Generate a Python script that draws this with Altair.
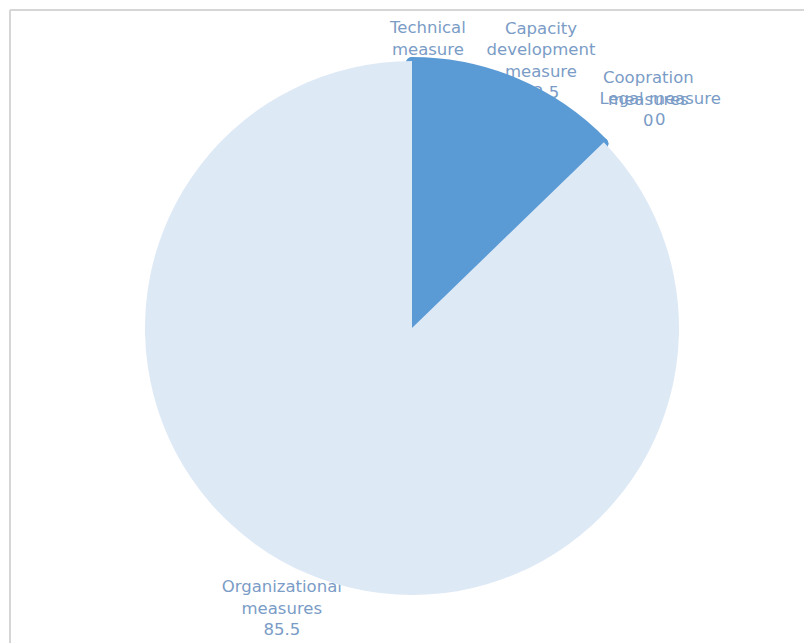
import altair as alt
import pandas as pd

categories = ["Technical measure", "Capacity development measure", "Coopration measures",
              "Legal measure", "Organizational measures"]
label_lines = [["Technical", "measure"], ["Capacity", "development", "measure"],
               ["Coopration", "measures"], ["Legal measure"], ["Organizational", "measures"]]
values = [0, 12.5, 0, 0, 85.5]

total = sum(values)
df = pd.DataFrame({
    "idx": list(range(len(categories))),
    "category": categories,
    "value": values,
    "label": ["\n".join(l + [f"{v:g}"]) for l, v in zip(label_lines, values)],
})

DARK = "#5B9BD5"
LIGHT = "#DEE9F6"
TEXT = "#7A9CC6"

base = alt.Chart(df).transform_window(
    cum="sum(value)", sort=[alt.SortField("idx")], frame=[None, 0]
).transform_calculate(
    start="datum.cum - datum.value",
    mid="datum.cum - datum.value / 2",
)

theta_scale = alt.Scale(domain=[0, total])
cx, cy = 402, 318

def labels(i, r, toff):
    return base.transform_filter(f"datum.idx == {i}").mark_text(
        radius=r, thetaOffset=toff, lineBreak="\n", lineHeight=21.5,
        font="DejaVu Sans", fontSize=16.5, color=TEXT, align="center", baseline="middle"
    ).encode(
        theta=alt.Theta("mid:Q", scale=theta_scale),
        text="label:N",
        x=alt.value(cx), y=alt.value(cy),
    )

# outside-end label placement (radius, angular nudge) per slice
placement = [(300, 0.053), (326, 0.006), (344, -0.044), (338, 0.023), (290, 0.065)]
text_layers = [labels(i, r, t) for i, (r, t) in enumerate(placement)]

dark = base.transform_filter("datum.idx < 4").mark_arc(
    radius=265, fill=DARK, stroke=DARK, strokeWidth=12, strokeJoin="round"
).encode(
    theta=alt.Theta("start:Q", scale=theta_scale),
    theta2="cum:Q",
    x=alt.value(cx), y=alt.value(cy),
)

light = base.transform_filter("datum.idx == 4").mark_arc(
    radius=267, fill=LIGHT, strokeWidth=0
).encode(
    theta=alt.Theta("start:Q", scale=theta_scale),
    theta2="cum:Q",
    x=alt.value(cx), y=alt.value(cy),
)

frame_df = pd.DataFrame({"k": [0]})
frame_top = alt.Chart(frame_df).mark_rule(color="#D6D6D6", strokeWidth=2).encode(
    x=alt.value(0), x2=alt.value(794), y=alt.value(0)
)
frame_left = alt.Chart(frame_df).mark_rule(color="#D6D6D6", strokeWidth=2).encode(
    x=alt.value(0), y=alt.value(0), y2=alt.value(633)
)

chart = alt.layer(frame_top, frame_left, *text_layers, dark, light).properties(
    width=794, height=633,
    autosize=alt.AutoSizeParams(type="none"),
    padding={"left": 10, "top": 10, "right": 0, "bottom": 0},
    background="white",
).configure_view(strokeWidth=0)

chart.save("out.html", embed_options={"renderer": "svg", "actions": False})
